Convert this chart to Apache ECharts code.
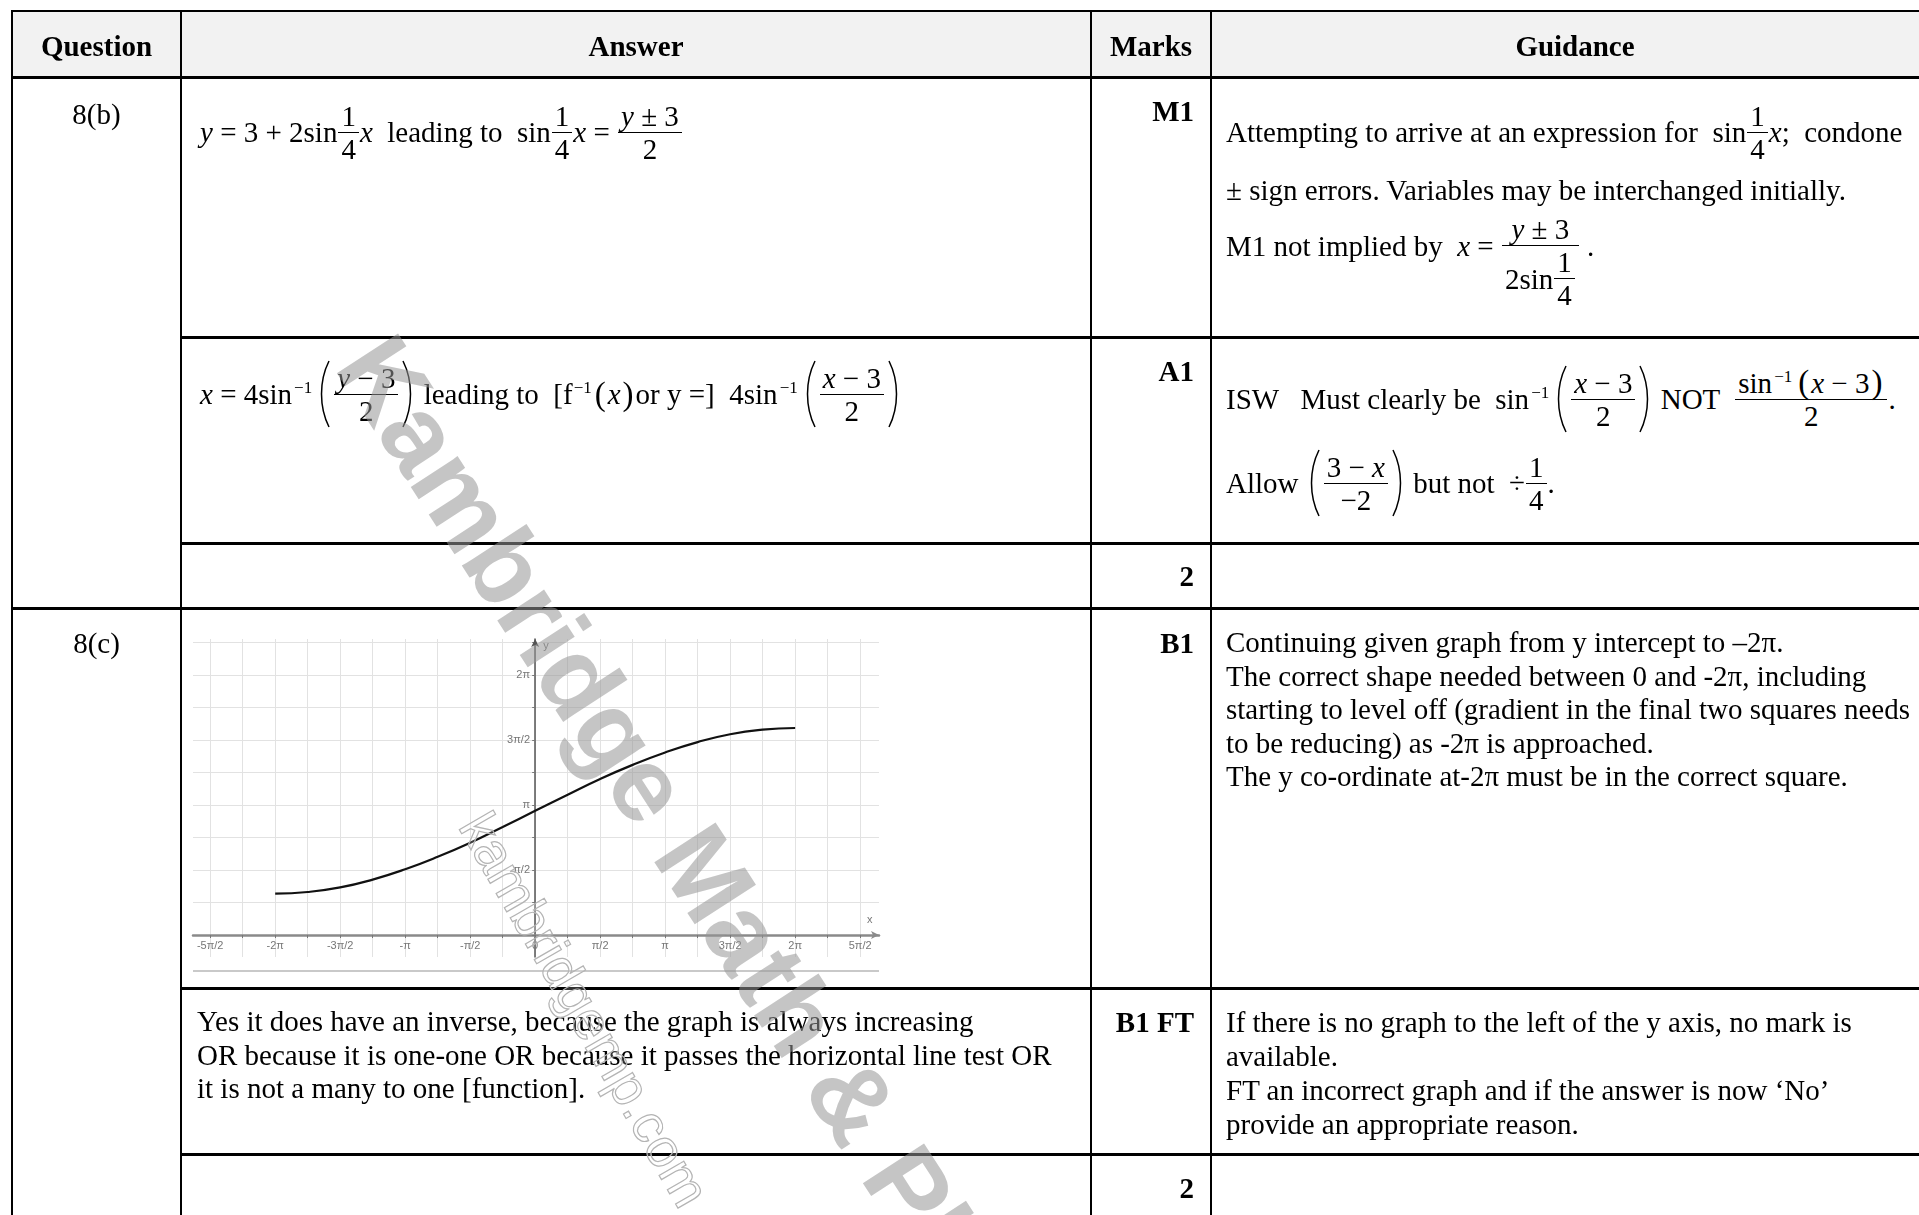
<!DOCTYPE html>
<html>
<head>
<meta charset="utf-8">
<title>Mark scheme 8(b) 8(c)</title>
<script src="https://cdn.jsdelivr.net/npm/echarts@6.0.0/dist/echarts.min.js"></script>
<style>
body{margin:0;background:#fff;}
#page{position:relative;width:1919px;height:1215px;overflow:hidden;font-family:"Liberation Serif","Times New Roman",serif;font-size:29px;color:#000;}
.ln{position:absolute;background:#000;}
.m{position:absolute;display:flex;align-items:center;height:0;white-space:pre;}
.t{position:absolute;white-space:pre;}
.b{font-weight:bold;}
.fr{display:inline-flex;flex-direction:column;align-items:stretch;line-height:32px;margin:0 1px;}
.fr>.n{border-bottom:1.5px solid #000;padding:0 3px;text-align:center;}
.fr>.d{padding:0 3px;text-align:center;display:flex;justify-content:center;align-items:center;}
.sn sup{font-size:17px;line-height:0;margin:0 4px 0 2px;}
.sn.f sup{margin:0 1px 0 1px;}
.pp{font-size:33px;margin:0 2px;}
svg.p{margin:0 2px;}
svg.p path{fill:none;stroke:#000;stroke-width:1.5;}
#graph{position:absolute;left:183px;top:620px;width:710px;height:370px;}
.wm1{position:absolute;left:364px;top:294px;font:bold 106px "Liberation Sans",Arial,sans-serif;line-height:106px;color:rgba(150,150,150,0.55);transform-origin:0 50%;transform:rotate(57deg);white-space:nowrap;z-index:10;pointer-events:none;}
.wm2{position:absolute;left:474px;top:790px;font:54px "Liberation Sans",Arial,sans-serif;line-height:54px;color:rgba(255,255,255,0.2);-webkit-text-stroke:1.2px #b4b4b4;transform-origin:0 50%;transform:rotate(60deg);white-space:nowrap;z-index:10;pointer-events:none;}
</style>
</head>
<body>
<div id="page"><div id="graph"></div></div>
<script>
// curve: x in steps of π/4
const curveSteps = [-8, -7, -6, -5, -4, -3, -2, -1, 0, 1, 2, 3, 4, 5, 6, 7, 8];
const curveY = [1.00, 1.04, 1.15, 1.34, 1.59, 1.89, 2.23, 2.61, 3.00, 3.39, 3.77, 4.11, 4.41, 4.66, 4.85, 4.96, 5.00];
// tick labels, multiples of π/2
const xLabelSteps = [-5, -4, -3, -2, -1, 0, 1, 2, 3, 4, 5];
const xLabels = ['-5π/2', '-2π', '-3π/2', '-π', '-π/2', '0', 'π/2', 'π', '3π/2', '2π', '5π/2'];
const yLabelSteps = [1, 2, 3, 4];
const yLabels = ['π/2', 'π', '3π/2', '2π'];
// grid squares, multiples of π/4
const xGridSteps = [-10, -9, -8, -7, -6, -5, -4, -3, -2, -1, 0, 1, 2, 3, 4, 5, 6, 7, 8, 9, 10];
const yGridSteps = [0, 1, 2, 3, 4, 5, 6, 7, 8, 9];

const page = document.getElementById('page');
function add(cls, style, html) {
  const d = document.createElement('div');
  d.className = cls;
  d.style.cssText = style;
  d.innerHTML = html;
  page.appendChild(d);
}
const LP = '<svg class="p" width="13" height="70" viewBox="0 0 13 70"><path d="M11 2C1 22 1 48 11 68"/></svg>';
const RP = '<svg class="p" width="13" height="70" viewBox="0 0 13 70"><path d="M2 2C12 22 12 48 2 68"/></svg>';
const fr = (n, d) => '<span class="fr"><span class="n">' + n + '</span><span class="d">' + d + '</span></span>';
const v = s => '<i>' + s + '</i>';
const sinInv = '<span class="sn">sin<sup>−1</sup></span>';
const q4 = fr('1', '4');

// table frame
add('ln', 'left:12px;top:12px;width:1907px;height:64px;background:#f2f2f2;', '');
[[12,10,1907,2],[12,76,1907,3],[181,336,1738,3],[181,542,1738,3],[12,607,1907,3],[181,987,1738,3],[181,1153,1738,3],
 [11,10,2,1205],[180,10,2,1205],[1090,10,2,1205],[1210,10,2,1205]].forEach(l => {
  add('ln', 'left:' + l[0] + 'px;top:' + l[1] + 'px;width:' + l[2] + 'px;height:' + l[3] + 'px;', '');
});

// header
add('m b', 'left:12px;top:46px;width:169px;justify-content:center;', 'Question');
add('m b', 'left:181px;top:46px;width:910px;justify-content:center;', 'Answer');
add('m b', 'left:1091px;top:46px;width:120px;justify-content:center;', 'Marks');
add('m b', 'left:1211px;top:46px;width:728px;justify-content:center;', 'Guidance');

// question labels
add('m', 'left:12px;top:114px;width:169px;justify-content:center;', '8(b)');
add('m', 'left:12px;top:643px;width:169px;justify-content:center;', '8(c)');

// marks
[['M1',111],['A1',371],['2',576],['B1',643],['B1 FT',1022],['2',1188]].forEach(m => {
  add('m b', 'left:1091px;top:' + m[1] + 'px;width:103px;justify-content:flex-end;', m[0]);
});

// 8(b) answers
add('m', 'left:200px;top:132px;', v('y') + ' = 3 + 2sin' + q4 + v('x') + '  leading to  sin' + q4 + v('x') + ' = ' + fr(v('y') + ' ± 3', '2'));
add('m', 'left:200px;top:394px;', v('x') + ' = 4' + sinInv + LP + fr(v('y') + ' − 3', '2') + RP + ' leading to  [f<span class="sn f"><sup>−1</sup></span><span class="pp">(</span>' + v('x') + '<span class="pp">)</span>or y =]  4' + sinInv + LP + fr(v('x') + ' − 3', '2') + RP);

// 8(b) guidance
add('m', 'left:1226px;top:132px;', 'Attempting to arrive at an expression for  sin' + q4 + v('x') + ';  condone');
add('m', 'left:1226px;top:190px;', '± sign errors. Variables may be interchanged initially.');
add('m', 'left:1226px;top:246px;', 'M1 not implied by  ' + v('x') + ' = <span style="position:relative;top:16px;display:inline-flex;">' + fr(v('y') + ' ± 3', '2sin' + q4) + '</span> .');
add('m', 'left:1226px;top:399px;', 'ISW   Must clearly be  ' + sinInv + LP + fr(v('x') + ' − 3', '2') + RP + ' NOT  ' + fr(sinInv + '<span class="pp">(</span>' + v('x') + ' − 3<span class="pp">)</span>', '2') + '.');
add('m', 'left:1226px;top:483px;', 'Allow ' + LP + fr('3 − ' + v('x'), '−2') + RP + ' but not  ÷' + q4 + '.');

// 8(c)
add('t', 'left:1226px;top:626px;line-height:33.6px;',
  'Continuing given graph from y intercept to –2π.\nThe correct shape needed between 0 and -2π, including\nstarting to level off (gradient in the final two squares needs\nto be reducing) as -2π is approached.\nThe y co-ordinate at-2π must be in the correct square.');
add('t', 'left:197px;top:1005px;line-height:33.6px;',
  'Yes it does have an inverse, because the graph is always increasing\nOR because it is one-one OR because it passes the horizontal line test OR\nit is not a many to one [function].');
add('t', 'left:1226px;top:1005px;line-height:34px;',
  'If there is no graph to the left of the y axis, no mark is\navailable.\nFT an incorrect graph and if the answer is now ‘No’\nprovide an appropriate reason.');

// bottom edge of the pasted graph
add('ln', 'left:193px;top:970px;width:686px;height:2px;background:#c9c9c9;', '');

// watermarks
add('wm1', '', 'Kambridge Math &amp; Physics');
add('wm2', '', 'kambridgemp.com');

// graph
const Q = Math.PI / 4, H = Math.PI / 2;
function labelFor(val, steps, labels) {
  for (let i = 0; i < steps.length; i++) {
    if (Math.abs(steps[i] * H - val) < 1e-6) return labels[i];
  }
  return '';
}
const chart = echarts.init(document.getElementById('graph'));
chart.setOption({
  animation: false,
  grid: {left: 10, top: 19, width: 686, height: 318, outerBoundsMode: 'none', containLabel: false},
  xAxis: {
    type: 'value', min: -8.27, max: 8.31,
    name: 'x', nameLocation: 'end', nameGap: -12,
    nameTextStyle: {color: '#777', fontSize: 11, verticalAlign: 'bottom', padding: [0, 0, 10, 0]},
    axisLine: {onZero: true, symbol: ['none', 'arrow'], symbolSize: [6, 8], lineStyle: {color: '#8a8a8a', width: 2.5}},
    axisTick: {show: true, customValues: xGridSteps.map(k => k * Q), length: 3, lineStyle: {color: '#777'}},
    // labels stay at the grid edge, so pull them up to the zero line
    axisLabel: {customValues: xLabelSteps.map(k => k * H), formatter: val => labelFor(val, xLabelSteps, xLabels), color: '#777', fontSize: 11, margin: -17, fontFamily: 'Liberation Sans'},
    splitLine: {show: true, lineStyle: {color: '#e2e2e2', width: 1}}
  },
  yAxis: {
    type: 'value', min: -0.53, max: 7.15,
    name: 'y', nameLocation: 'end', nameGap: -12,
    nameTextStyle: {color: '#777', fontSize: 11, align: 'left', padding: [0, 0, 0, 8]},
    axisLine: {onZero: true, symbol: ['none', 'arrow'], symbolSize: [6, 8], lineStyle: {color: '#555', width: 1.5}},
    axisTick: {show: true, customValues: yGridSteps.map(k => k * Q), length: 3, lineStyle: {color: '#777'}},
    axisLabel: {customValues: yLabelSteps.map(k => k * H), formatter: val => labelFor(val, yLabelSteps, yLabels), color: '#777', fontSize: 11, margin: -337, fontFamily: 'Liberation Sans'},
    splitLine: {show: true, lineStyle: {color: '#e2e2e2', width: 1}}
  },
  series: [{
    type: 'line',
    data: curveSteps.map((k, i) => [k * Q, curveY[i]]),
    smooth: true,
    showSymbol: false,
    lineStyle: {color: '#111', width: 2.2}
  }]
});
</script>
</body>
</html>
